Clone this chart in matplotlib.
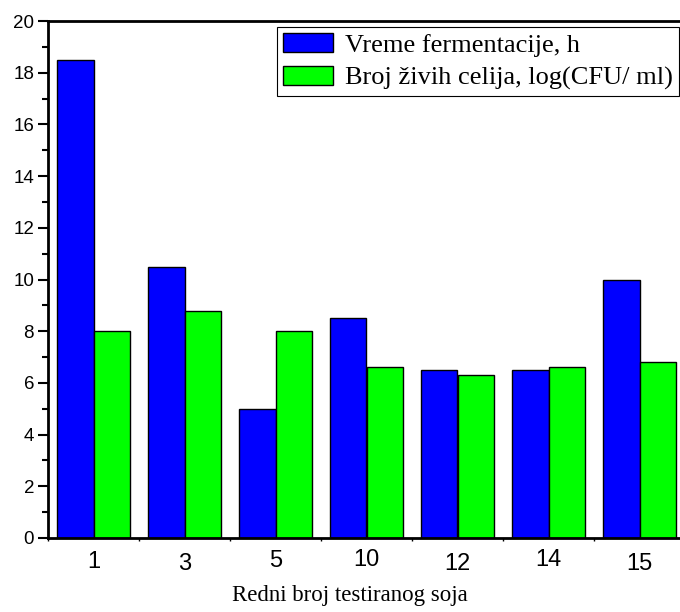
import numpy as np
import matplotlib
matplotlib.use('Agg')
import matplotlib.pyplot as plt
from matplotlib.transforms import ScaledTranslation

# ── data ──────────────────────────────────────────────────────────────────
sojevi     = ['1', '3', '5', '10', '12', '14', '15']
vreme      = [18.5, 10.5, 5.0, 8.5, 6.5, 6.5, 10.0]
broj_cel   = [8.0, 8.8, 8.0, 6.6, 6.3, 6.6, 6.8]
label_vreme = 'Vreme fermentacije, h'
label_broj  = 'Broj živih celija, log(CFU/ ml)'
xlabel      = 'Redni broj testiranog soja'

# small vertical jitter of the tick labels in the original (points)
lbl_shift = [0, -1.5, 0.7, 1.5, -1.5, 1.5, -1.5]

SANS  = ['Liberation Sans', 'DejaVu Sans']
SERIF = ['Liberation Serif', 'DejaVu Serif']

fig = plt.figure(figsize=(6.8, 6.12), dpi=100)
ax = fig.add_axes([48/680, 74/612, 637/680, 517/612])

x = np.arange(len(sojevi))
w = 0.4
ax.bar(x - w/2, vreme, w, color='#0000FF', edgecolor='black', lw=1.0,
       label=label_vreme)
ax.bar(x + w/2, broj_cel, w, color='#00FF00', edgecolor='black', lw=1.0,
       label=label_broj)

ax.set_xlim(-0.5, len(sojevi) - 0.5)
ax.set_ylim(0, 20)

for s in ax.spines.values():
    s.set_linewidth(2.0)

ax.set_yticks(np.arange(0, 21, 2))
ax.set_yticks(np.arange(1, 20, 2), minor=True)
ax.tick_params(axis='y', which='major', direction='out', length=7, width=1.5,
               labelsize=13.5, pad=3)
ax.tick_params(axis='y', which='minor', direction='out', length=4, width=1.5)
for t in ax.get_yticklabels():
    t.set_family(SANS)

ax.set_xticks(x)
ax.set_xticklabels(sojevi)
ax.set_xticks(np.arange(-0.5, len(sojevi), 1.0), minor=True)
ax.tick_params(axis='x', which='major', length=0, labelsize=17, pad=9.5)
ax.tick_params(axis='x', which='minor', direction='out', length=2.5, width=1.0)
for t, dy in zip(ax.get_xticklabels(), lbl_shift):
    t.set_family(SANS)
    t.set_transform(t.get_transform() + ScaledTranslation(0, dy/72, fig.dpi_scale_trans))

fig.text(350/680, 1 - 596/612, xlabel, ha='center', va='center',
         fontsize=16.5, family=SERIF)

leg = ax.legend(loc='upper left', bbox_to_anchor=(277/680, 1 - 27/612),
                bbox_transform=fig.transFigure, borderaxespad=0,
                prop={'family': SERIF, 'size': 19}, frameon=True,
                fancybox=False, edgecolor='black', framealpha=1,
                handlelength=1.9, handleheight=0.76, handletextpad=0.45,
                borderpad=0.22, labelspacing=0.34)
leg.get_frame().set_linewidth(0.8)

fig.savefig('out.png', dpi=100)
